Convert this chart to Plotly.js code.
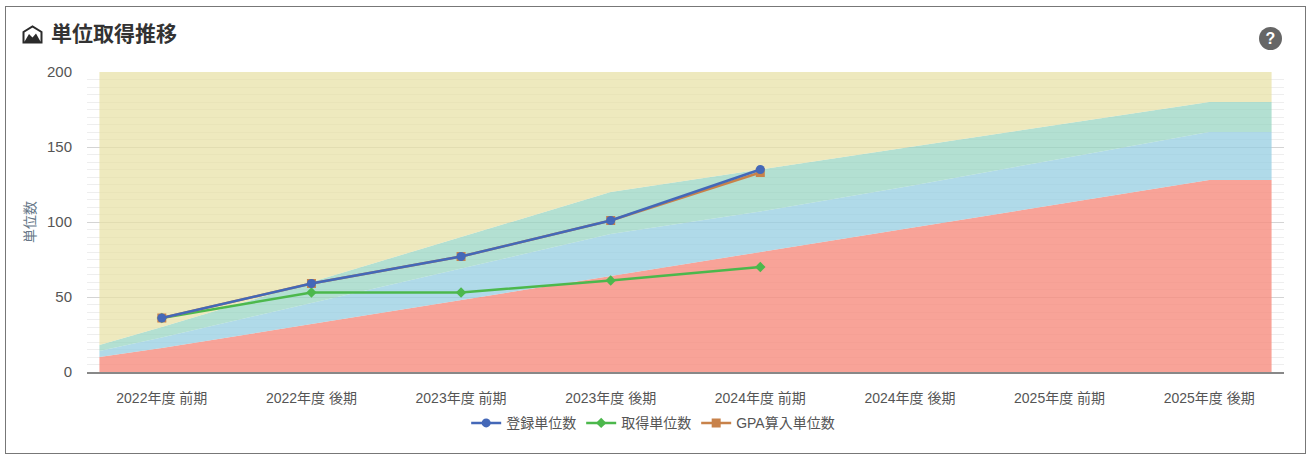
<!DOCTYPE html>
<html><head><meta charset="utf-8">
<script src="https://cdn.plot.ly/plotly-3.0.1.min.js"></script>
<style>
html,body{margin:0;padding:0;background:#fff;width:1309px;height:455px;overflow:hidden}
#frame{position:absolute;left:5px;top:6px;width:1299px;height:446px;border:1.5px solid #777;pointer-events:none}
#chart{position:absolute;left:0;top:0;width:1309px;height:455px}
#icon{position:absolute;left:22px;top:25px}
#help{position:absolute;left:1259px;top:27px;width:23px;height:23px;border-radius:50%;background:#666;color:#fff;font:bold 16px/23px "Liberation Sans",sans-serif;text-align:center}
</style></head><body>
<div id="chart"></div><div id="frame"></div>
<svg id="icon" width="21" height="19" viewBox="0 0 21 19">
<path d="M1.5 17.5V7L10.5 1.5L19.5 7V17.5Z" fill="none" stroke="#2b2b2b" stroke-width="2"/>
<path d="M2 17.5L7 9L10.5 12.5L14 8.5L19 17.5Z" fill="#2b2b2b"/></svg>
<div id="help">?</div>
<script>
const categories=['2022年度 前期','2022年度 後期','2023年度 前期','2023年度 後期','2024年度 前期','2024年度 後期','2025年度 前期','2025年度 後期'];
const tickPositions=[0,1,2,3,4,5,6,7];
const linePositions=[0,1,2,3,4];
const bandPositions=[-0.417,0,1,2,3,4,5,6,7,7.417];
const redBand=[10,16,32,48,64,80,96,112,128,128];
const blueBand=[14,23,46,69,92,107,124,142,160,160];
const greenBand=[18,30,60,90,120,135,150,165,180,180];
const yellowBand=[200,200,200,200,200,200,200,200,200,200];
const registered=[36,59,77,101,135];
const earned=[36,53,53,61,70];
const gpaUnits=[36,59,77,101,133];

const band=(y,color,first)=>({x:bandPositions,y,type:'scatter',mode:'lines',line:{width:0},
  fill:first?'tozeroy':'tonexty',fillcolor:color,showlegend:false,hoverinfo:'skip'});
const data=[
 band(redBand,'rgba(246,140,126,0.80)',true),
 band(blueBand,'rgba(150,205,225,0.75)'),
 band(greenBand,'rgba(150,212,192,0.72)'),
 band(yellowBand,'rgba(232,225,165,0.72)'),
 {x:linePositions,y:earned,name:'取得単位数',type:'scatter',mode:'lines+markers',legendrank:2,
  line:{color:'#4cb84c',width:2.5},marker:{symbol:'diamond',size:8,color:'#4cb84c'}},
 {x:linePositions,y:gpaUnits,name:'GPA算入単位数',type:'scatter',mode:'lines+markers',legendrank:3,
  line:{color:'#c8824a',width:2.5},marker:{symbol:'square',size:9,color:'#c8824a'}},
 {x:linePositions,y:registered,name:'登録単位数',type:'scatter',mode:'lines+markers',legendrank:1,
  line:{color:'#4468b8',width:2.5},marker:{symbol:'circle',size:9,color:'#4468b8'}}
];
const layout={
 width:1309,height:455,paper_bgcolor:'#fff',plot_bgcolor:'#fff',
 margin:{l:87,r:25,t:71.5,b:82.5},
 font:{family:'"Liberation Sans","Noto Sans CJK JP",sans-serif',size:14,color:'#555'},
 title:{text:'<b>単位取得推移</b>',x:51/1309,xanchor:'left',y:1-34/455,yanchor:'middle',
   font:{family:'"Noto Sans CJK JP",sans-serif',size:21,color:'#333'}},
 xaxis:{range:[-0.5,7.5],tickmode:'array',tickvals:tickPositions,ticktext:categories,showgrid:false,zeroline:false,
   showline:true,linecolor:'#888',linewidth:1.5,ticks:'',ticklabelstandoff:12,tickfont:{size:14,color:'#555'}},
 yaxis:{range:[0,200],tick0:0,dtick:50,showgrid:true,gridcolor:'#d4d4d4',gridwidth:1,zeroline:false,
   minor:{dtick:5,showgrid:true,gridcolor:'#eeeeee',gridwidth:1},
   ticks:'',ticklabelstandoff:14,tickfont:{size:15,color:'#555'},
   title:{text:'単位数',standoff:8,font:{size:14,color:'#667788'}}},
 legend:{orientation:'h',traceorder:'normal',x:0.473,xanchor:'center',y:-0.171,yanchor:'middle',font:{size:14,color:'#555'},
   itemwidth:30,tracegroupgap:0},
 hovermode:'closest'
};
Plotly.newPlot('chart',data,layout,{displayModeBar:false,responsive:false});
</script></body></html>
